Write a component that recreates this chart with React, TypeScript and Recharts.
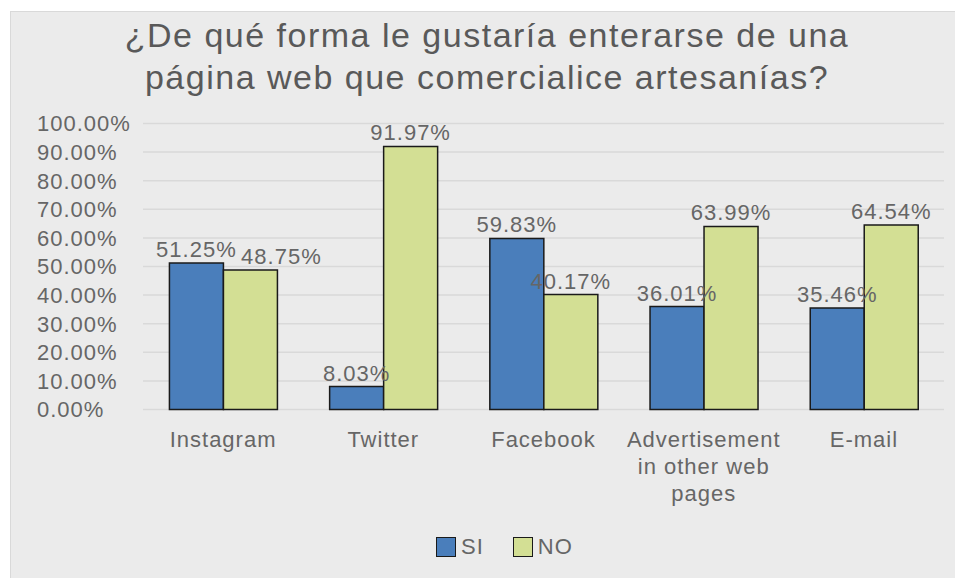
import React from "react";
import {
  BarChart,
  Bar,
  XAxis,
  YAxis,
  CartesianGrid,
  LabelList,
} from "recharts";

const FONT = "'Liberation Sans', Arial, sans-serif";

const titleLines = [
  "¿De qué forma le gustaría enterarse de una",
  "página web que comercialice artesanías?",
];
const categories = [
  "Instagram",
  "Twitter",
  "Facebook",
  "Advertisement in other web pages",
  "E-mail",
];
const siValues = [51.25, 8.03, 59.83, 36.01, 35.46];
const noValues = [48.75, 91.97, 40.17, 63.99, 64.54];
const yTicks = [0, 10, 20, 30, 40, 50, 60, 70, 80, 90, 100];
const seriesKeys = ["si", "no"];
const seriesNames = ["SI", "NO"];
const seriesColors = ["#4a7ebb", "#d3df94"];

const data = categories.map((name, i) => ({
  name,
  si: siValues[i],
  no: noValues[i],
}));

const pct = (v: number) => `${Number(v).toFixed(2)}%`;

const textStyle = { fontSize: 22, fontFamily: FONT, letterSpacing: 1 };

// greedy word wrap by character count
function wrap(label: string, maxChars: number): string[] {
  const lines: string[] = [];
  let cur = "";
  for (const w of label.split(" ")) {
    const next = cur ? `${cur} ${w}` : w;
    if (next.length > maxChars && cur) {
      lines.push(cur);
      cur = w;
    } else {
      cur = next;
    }
  }
  if (cur) lines.push(cur);
  return lines;
}

// eslint-disable-next-line @typescript-eslint/no-explicit-any
function PercentTick({ y, payload }: any) {
  return (
    <text x={27} y={y} dy="0.355em" textAnchor="start" fill="#666" style={textStyle}>
      {pct(payload.value)}
    </text>
  );
}

// eslint-disable-next-line @typescript-eslint/no-explicit-any
function CategoryTick({ x, y, payload }: any) {
  const lines = wrap(String(payload.value), 13);
  return (
    <text x={x} y={y + 29} textAnchor="middle" fill="#666" style={textStyle}>
      {lines.map((l, i) => (
        <tspan key={i} x={x} dy={i === 0 ? 0 : 27}>
          {l}
        </tspan>
      ))}
    </text>
  );
}

// value label; the NO label moves right when it would collide with the SI label
// eslint-disable-next-line @typescript-eslint/no-explicit-any
function ValueLabel({ x, y, width, value, index, series }: any) {
  const clash =
    series === "no" && Math.abs(siValues[index] - noValues[index]) < 5;
  return (
    <text
      x={x + width / 2 + (clash ? 31 : 0)}
      y={y - 6}
      textAnchor="middle"
      fill="#666"
      style={textStyle}
    >
      {pct(value)}
    </text>
  );
}

export default function App() {
  return (
    <div
      style={{
        position: "absolute",
        left: 0,
        top: 0,
        width: 955,
        height: 578,
        background: "#fff",
        overflow: "hidden",
        fontFamily: FONT,
      }}
    >
      <div
        style={{
          position: "absolute",
          left: 10,
          top: 11,
          width: 945,
          height: 567,
          background: "#ebebeb",
          borderTop: "1px solid #d9d9d9",
          borderLeft: "1px solid #d9d9d9",
          boxSizing: "border-box",
        }}
      />
      <div
        style={{
          position: "absolute",
          left: 0,
          width: 974,
          top: 14,
          textAlign: "center",
          fontSize: 34,
          lineHeight: "42px",
          letterSpacing: 1.5,
          color: "#595959",
        }}
      >
        {titleLines.map((t) => (
          <div key={t}>{t}</div>
        ))}
      </div>

      <div style={{ position: "absolute", left: 10, top: 11 }}>
        <BarChart
          width={945}
          height={567}
          data={data}
          margin={{ top: 112.5, right: 11, left: 0, bottom: 108.5 }}
          barGap={0}
          barCategoryGap="16.5%"
        >
          <CartesianGrid
            horizontal
            vertical={false}
            stroke="#d9d9d9"
            strokeWidth={1.5}
          />
          <XAxis
            dataKey="name"
            axisLine={false}
            tickLine={false}
            tick={<CategoryTick />}
            height={60}
            interval={0}
          />
          <YAxis
            type="number"
            domain={[0, 100]}
            ticks={yTicks}
            axisLine={false}
            tickLine={false}
            width={133}
            tick={<PercentTick />}
            interval={0}
          />
          {seriesKeys.map((k, i) => (
            <Bar
              key={k}
              dataKey={k}
              name={seriesNames[i]}
              fill={seriesColors[i]}
              stroke="#1a1a1a"
              strokeWidth={1.5}
              isAnimationActive={false}
            >
              <LabelList dataKey={k} content={<ValueLabel series={k} />} />
            </Bar>
          ))}
        </BarChart>
      </div>

      <div
        style={{
          position: "absolute",
          left: 436,
          top: 534,
          display: "flex",
          alignItems: "center",
          fontSize: 22,
          letterSpacing: 1,
          color: "#666",
          lineHeight: "26px",
        }}
      >
        {seriesNames.map((n, i) => (
          <div
            key={n}
            style={{ display: "flex", alignItems: "center", marginRight: 29 }}
          >
            <span
              style={{
                display: "inline-block",
                width: 20,
                height: 20,
                boxSizing: "border-box",
                background: seriesColors[i],
                border: "1.5px solid #1a1a1a",
                marginRight: 5,
              }}
            />
            <span>{n}</span>
          </div>
        ))}
      </div>
    </div>
  );
}
